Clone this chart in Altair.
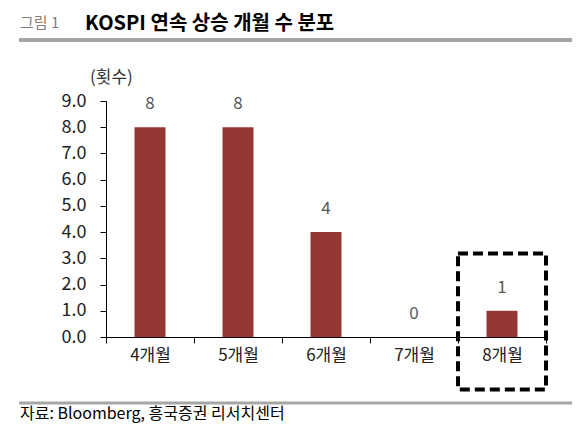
import altair as alt
import pandas as pd

categories = ["4개월", "5개월", "6개월", "7개월", "8개월"]
counts = [8, 8, 4, 0, 1]
y_ticks = [0, 1, 2, 3, 4, 5, 6, 7, 8, 9]
highlight_cat = ["8개월"]
highlight_top = [3.18]
highlight_bottom = [-2.0]

fig_label = "그림 1"
title_text = "KOSPI 연속 상승 개월 수 분포"
unit_text = "(횟수)"
source_text = "자료: Bloomberg, 흥국증권 리서치센터"

FONT = "Noto Sans CJK KR"

df = pd.DataFrame({"cat": categories, "val": counts})
box_df = pd.DataFrame({"cat": highlight_cat, "top": highlight_top, "bottom": highlight_bottom})
one = alt.Data(values=[{"k": 1}])

xscale = alt.Scale(domain=categories, paddingInner=0, paddingOuter=0)
yscale = alt.Scale(domain=[0, 9], nice=False, zero=True)

x_axis = alt.Axis(title=None, labelAngle=0, labelFontSize=17, labelFont=FONT,
                  labelColor="#222222", tickBand="extent", tickSize=6,
                  labelPadding=4, domainColor="black", tickColor="black",
                  domainWidth=1, tickWidth=1, labelOverlap=False)
y_axis = alt.Axis(title=None, values=y_ticks, format=".1f", labelFontSize=18,
                  labelFont=FONT, labelColor="#222222", tickSize=6,
                  labelPadding=14, grid=False, domainColor="black",
                  tickColor="black", labelOverlap=False, labelFlush=False,
                  labelBound=False)

x_enc = alt.X("cat:N", sort=categories, scale=xscale, axis=x_axis)

bars = alt.Chart(df).mark_bar(size=31, color="#953735").encode(
    x=x_enc, y=alt.Y("val:Q", scale=yscale, axis=y_axis))

labels = alt.Chart(df).mark_text(baseline="middle", dy=-23, fontSize=17, font=FONT,
                                 color="#595959").encode(
    x=x_enc,
    y=alt.Y("val:Q", scale=yscale, axis=y_axis),
    text=alt.Text("val:Q", format="d"))

box = alt.Chart(box_df).mark_rect(fill="white", fillOpacity=0, stroke="black",
                                  strokeWidth=4, strokeDash=[10, 5]).encode(
    x=x_enc,
    y=alt.Y("top:Q", scale=yscale, axis=y_axis),
    y2="bottom:Q")

fig_t = alt.Chart(one).mark_text(text=fig_label, align="left", baseline="middle",
                                 fontSize=15, font=FONT, color="#7f7f7f").encode(
    x=alt.value(-86), y=alt.value(-78))
main_t = alt.Chart(one).mark_text(text=title_text, align="left", baseline="middle",
                                  fontSize=20, font=FONT, fontWeight="bold",
                                  color="black").encode(
    x=alt.value(-21), y=alt.value(-77.5))
top_rule = alt.Chart(one).mark_rule(color="#a6a6a6", strokeWidth=4).encode(
    x=alt.value(-87), x2=alt.value(480), y=alt.value(-61))
unit_t = alt.Chart(one).mark_text(text=unit_text, align="left", baseline="middle",
                                  fontSize=17, font=FONT, color="#333333").encode(
    x=alt.value(-16), y=alt.value(-23))
bot_rule = alt.Chart(one).mark_rule(color="#a6a6a6", strokeWidth=3).encode(
    x=alt.value(-87), x2=alt.value(480), y=alt.value(302))
src_t = alt.Chart(one).mark_text(text=source_text, align="left", baseline="middle",
                                 fontSize=16, font=FONT, color="black").encode(
    x=alt.value(-86), y=alt.value(313))

chart = alt.layer(bars, labels, box, fig_t, main_t, top_rule, unit_t, bot_rule, src_t).properties(
    width=440, height=236,
    autosize=alt.AutoSizeParams(type="none"),
    padding={"left": 98, "top": 93, "right": 26, "bottom": 89},
).configure(background="white").configure_view(stroke=None)

chart.save("out.html", embed_options={"renderer": "svg", "actions": False})
